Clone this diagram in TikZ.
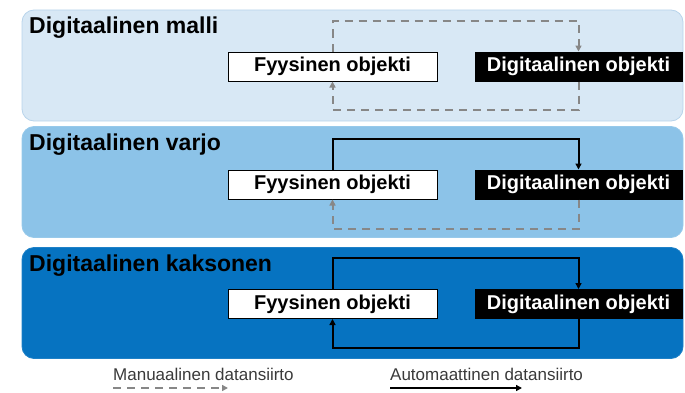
\documentclass[tikz,border=0pt]{standalone}
\usepackage{fontspec}
\setmainfont{Liberation Sans}
\usetikzlibrary{arrows.meta,positioning}
\definecolor{mallibg}{HTML}{D8E8F5}
\definecolor{mallirule}{HTML}{B8D4EB}
\definecolor{varjobg}{HTML}{8CC3E8}
\definecolor{kaksonenbg}{HTML}{0673C1}
\definecolor{manualgray}{HTML}{878787}
\definecolor{legendtext}{HTML}{3A3A3A}

\begin{document}
\begin{tikzpicture}[x=1pt, y=1pt,
  panel/.style={rounded corners=12pt, minimum width=661pt, minimum height=111pt,
                inner sep=0pt, line width=0.8pt},
  title/.style={anchor=base west, inner sep=0pt, font=\fontsize{23}{27}\selectfont\bfseries},
  physbox/.style={draw=black, fill=white, line width=1pt, minimum width=209pt,
                  minimum height=29pt, inner sep=0pt, font=\fontsize{20}{24}\selectfont\bfseries},
  digibox/.style={physbox, fill=black, text=white, minimum width=207pt},
  manualflow/.style={draw=manualgray, line width=2pt, dash pattern=on 8pt off 6pt,
                     -{Triangle[length=6pt,width=6pt]}},
  autoflow/.style={draw=black, line width=2pt, -{Triangle[length=6pt,width=6pt]}},
  legend/.style={anchor=base west, inner sep=0pt, text=legendtext, font=\fontsize{17}{20}\selectfont}]

\useasboundingbox (0,0) rectangle (685,392);

% the three levels
\node[panel, draw=mallirule, fill=mallibg] (p1) at (352.5,326.5) {};
\node[panel, draw=varjobg!90!white, fill=varjobg] (p2) at (352.5,210) {};
\node[panel, draw=kaksonenbg!90!white, fill=kaksonenbg] (p3) at (352.5,89) {};

\node[title] (t1) at (29,359) {Digitaalinen malli};
\node[title] (t2) at (29,242) {Digitaalinen varjo};
\node[title] (t3) at (29,121) {Digitaalinen kaksonen};

\node[physbox] (f1) at (332.5,325.5) {Fyysinen objekti};
\node[digibox] (d1) at (578.5,325.5) {Digitaalinen objekti};
\node[physbox] (f2) at (332.5,207.5) {Fyysinen objekti};
\node[digibox] (d2) at (578.5,207.5) {Digitaalinen objekti};
\node[physbox] (f3) at (332.5,88) {Fyysinen objekti};
\node[digibox] (d3) at (578.5,88) {Digitaalinen objekti};

% data flows: physical -> digital on top, digital -> physical below
\draw[manualflow] (f1.north) -- ++(0,30) -| (d1.north);
\draw[manualflow] (d1.south) -- ++(0,-28) -| (f1.south);
\draw[autoflow] (f2.north) -- ++(0,31) -| (d2.north);
\draw[manualflow] (d2.south) -- ++(0,-29) -| (f2.south);
\draw[autoflow] (f3.north) -- ++(0,31) -| (d3.north);
\draw[autoflow] (d3.south) -- ++(0,-29) -| (f3.south);

% legend
\node[legend] (lman) at (113,12) {Manuaalinen datansiirto};
\node[legend] (lauto) at (390,12) {Automaattinen datansiirto};
\coordinate (manend) at (228,4);
\coordinate (autoend) at (522,4);
\draw[manualflow] (lman.base west |- manend) -- (manend);
\draw[autoflow] (lauto.base west |- autoend) -- (autoend);
\end{tikzpicture}
\end{document}
